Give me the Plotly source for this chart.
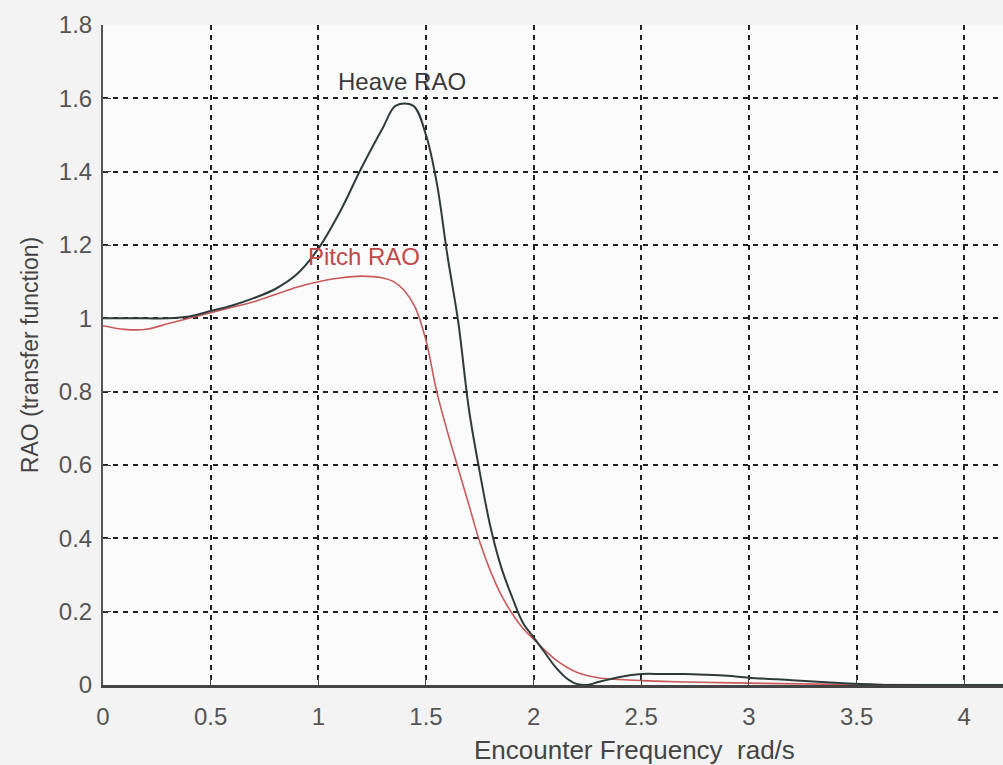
import plotly.graph_objects as go

# Heave RAO
heave_x = [0, 0.1, 0.2, 0.3, 0.4, 0.5, 0.6, 0.7, 0.8, 0.9, 1.0, 1.1, 1.2, 1.3, 1.36, 1.44,
           1.5, 1.55, 1.6, 1.65, 1.7, 1.75, 1.8, 1.85, 1.9, 1.95, 2.0, 2.05, 2.1, 2.15, 2.2,
           2.25, 2.3, 2.4, 2.5, 2.6, 2.7, 2.8, 2.9, 3.0, 3.2, 3.4, 3.6, 3.8, 4.0, 4.18]
heave_y = [1.0, 1.0, 1.0, 1.0, 1.005, 1.02, 1.035, 1.055, 1.08, 1.12, 1.19, 1.29, 1.41, 1.52, 1.58, 1.58,
           1.50, 1.37, 1.17, 0.99, 0.75, 0.58, 0.43, 0.32, 0.24, 0.17, 0.13, 0.09, 0.05, 0.02, 0.003,
           0.0, 0.008, 0.022, 0.03, 0.03, 0.03, 0.028, 0.025, 0.02, 0.013, 0.006, 0.001, 0.0, 0.0, 0.0]

# Pitch RAO
pitch_x = [0, 0.1, 0.2, 0.3, 0.4, 0.5, 0.6, 0.7, 0.8, 0.9, 1.0, 1.1, 1.2, 1.3, 1.35, 1.4, 1.45,
           1.5, 1.55, 1.6, 1.65, 1.7, 1.75, 1.8, 1.85, 1.9, 1.95, 2.0, 2.1, 2.2, 2.3, 2.4,
           2.5, 2.7, 3.0, 3.5, 4.18]
pitch_y = [0.98, 0.97, 0.97, 0.985, 1.0, 1.015, 1.03, 1.045, 1.065, 1.085, 1.10, 1.11, 1.115, 1.11,
           1.10, 1.075, 1.03, 0.94, 0.80, 0.69, 0.59, 0.49, 0.39, 0.31, 0.245, 0.195, 0.155, 0.125,
           0.07, 0.035, 0.02, 0.015, 0.012, 0.008, 0.005, 0.001, 0.0]

x_ticks = [0, 0.5, 1, 1.5, 2, 2.5, 3, 3.5, 4]
x_tick_labels = ["0", "0.5", "1", "1.5", "2", "2.5", "3", "3.5", "4"]
y_ticks = [0, 0.2, 0.4, 0.6, 0.8, 1.0, 1.2, 1.4, 1.6, 1.8]
y_tick_labels = ["0", "0.2", "0.4", "0.6", "0.8", "1", "1.2", "1.4", "1.6", "1.8"]

FONT = "Liberation Sans, Arial"

fig = go.Figure()
fig.add_trace(go.Scatter(x=pitch_x, y=pitch_y, mode="lines", line=dict(color="#c85a5a", width=1.6),
                         line_shape="spline", name="Pitch RAO", showlegend=False))
fig.add_trace(go.Scatter(x=heave_x, y=heave_y, mode="lines", line=dict(color="#2f3b3b", width=2),
                         line_shape="spline", name="Heave RAO", showlegend=False))

fig.add_annotation(x=1.39, y=1.645, text="Heave RAO", showarrow=False,
                   font=dict(family=FONT, size=24, color="#3a3a3a"))
fig.add_annotation(x=1.21, y=1.17, text="Pitch RAO", showarrow=False,
                   font=dict(family=FONT, size=24, color="#c04848"))
# x-axis title (placed right of centre, as in the original)
fig.add_annotation(x=2.47, xref="x", y=-0.0985, yref="paper", yanchor="middle",
                   text="Encounter Frequency  rad/s", showarrow=False,
                   font=dict(family=FONT, size=26, color="#444444"))

grid = dict(showgrid=True, gridcolor="#222222", griddash="5px,5px", gridwidth=1.5)
fig.update_xaxes(range=[0, 4.18], tickvals=x_ticks, ticktext=x_tick_labels, **grid,
                 showline=True, linecolor="#444444", linewidth=3, ticks="inside", ticklen=8,
                 tickcolor="#444444", zeroline=False, ticklabelstandoff=8, automargin=False,
                 tickfont=dict(family=FONT, size=24, color="#555555"))
fig.update_yaxes(range=[0, 1.8], tickvals=y_ticks, ticktext=y_tick_labels, **grid,
                 showline=True, linecolor="#555555", linewidth=2, ticks="inside", ticklen=8,
                 tickcolor="#444444", zeroline=False, ticklabelstandoff=4, automargin=False,
                 tickfont=dict(family=FONT, size=24, color="#555555"),
                 title=dict(text="RAO (transfer function)", standoff=14,
                            font=dict(family=FONT, size=23, color="#444444")))

fig.update_layout(width=1003, height=765, margin=dict(l=103, r=0, t=25, b=80),
                  paper_bgcolor="#f3f3f3", plot_bgcolor="#fbfbfb")

fig.write_html("out.html")
